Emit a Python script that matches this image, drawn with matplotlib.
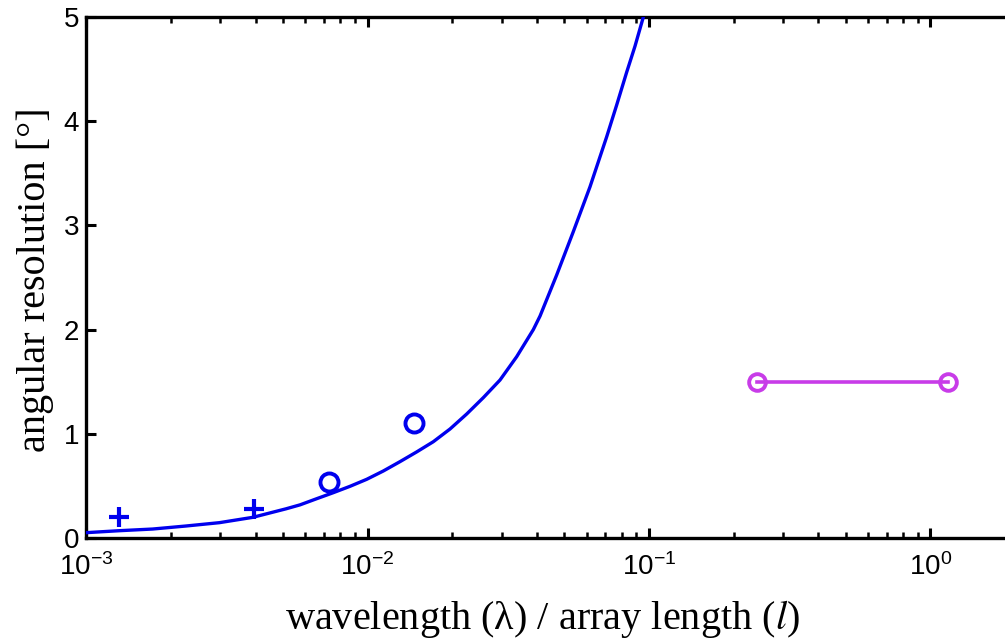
import numpy as np
import matplotlib
matplotlib.use('Agg')
import matplotlib.pyplot as plt
from matplotlib.ticker import LogLocator, FixedLocator, NullFormatter

plt.rcParams['font.family'] = 'Liberation Sans'
plt.rcParams['mathtext.fontset'] = 'custom'
plt.rcParams['mathtext.rm'] = 'Liberation Sans'
plt.rcParams['mathtext.it'] = 'Liberation Sans:italic'

# theoretical curve
curve_x = [0.001, 0.001313, 0.001725, 0.002265, 0.002976, 0.003909, 0.005134,
           0.005758, 0.006598, 0.00756, 0.008667, 0.009931, 0.01138, 0.01305,
           0.01495, 0.01713, 0.01964, 0.02251, 0.02579, 0.02956, 0.03388,
           0.03882, 0.04101, 0.04699, 0.05384, 0.06171, 0.07073, 0.07676,
           0.0833, 0.08918, 0.09548]
curve_y = [0.051, 0.070, 0.086, 0.115, 0.147, 0.198, 0.280,
           0.318, 0.377, 0.435, 0.496, 0.563, 0.643, 0.733,
           0.826, 0.924, 1.046, 1.190, 1.347, 1.516, 1.740,
           2.000, 2.130, 2.524, 2.94, 3.37, 3.85, 4.155,
           4.47, 4.72, 5.0]

# measured points
plus_x = [0.00131, 0.00396]
plus_y = [0.20, 0.28]
circ_x = [0.00731, 0.01462]
circ_y = [0.535, 1.10]

# magenta range
rng_x = [0.242, 1.154]
rng_y = [1.5, 1.5]

blue = '#0000EE'
magenta = '#C83CE8'

fig = plt.figure(figsize=(10.05, 6.41), dpi=100)
ax = fig.add_axes([0.0856, 0.1607, 0.9144, 0.8128])

ax.plot(curve_x, curve_y, color=blue, lw=2.4, solid_capstyle='round',
        solid_joinstyle='round', zorder=3)
ax.plot(plus_x, plus_y, ls='none', marker='+', ms=14, mew=3, color=blue, zorder=4)
ax.plot(circ_x, circ_y, ls='none', marker='o', ms=13, mew=2.8, mfc='none', mec=blue, zorder=4)
ax.plot(rng_x, rng_y, color=magenta, lw=2.6, marker='o', ms=12, mew=2.8, mfc='none', mec=magenta, zorder=4)

ax.set_xscale('log')
ax.set_xlim(1e-3, 10 ** 0.2647)
ax.set_ylim(0, 5)

ax.xaxis.set_major_locator(FixedLocator([1e-3, 1e-2, 1e-1, 1e0]))
ax.xaxis.set_minor_locator(LogLocator(base=10, subs=np.arange(2, 10), numticks=20))
ax.xaxis.set_minor_formatter(NullFormatter())
ax.set_yticks([0, 1, 2, 3, 4, 5])

for side in ['left', 'top', 'bottom']:
    ax.spines[side].set_linewidth(2.4)
ax.spines['right'].set_visible(False)

ax.tick_params(axis='both', which='major', direction='in', length=7, width=2.2,
               labelsize=20, top=True, right=False)
ax.tick_params(axis='x', which='minor', direction='in', length=4, width=1.8,
               top=True)
ax.tick_params(axis='x', which='major', pad=11)
ax.tick_params(axis='y', which='major', pad=5)

ax.set_xlabel('wavelength (λ) / array length ($l$)', fontfamily='Liberation Serif',
              math_fontfamily='stix', fontsize=29)
ax.set_ylabel('angular resolution [°]', fontfamily='Liberation Serif',
              fontsize=29)
ax.xaxis.set_label_coords(0.497, -0.116)
ax.yaxis.set_label_coords(-0.035, 0.495)

fig.savefig('out.png', dpi=100)
